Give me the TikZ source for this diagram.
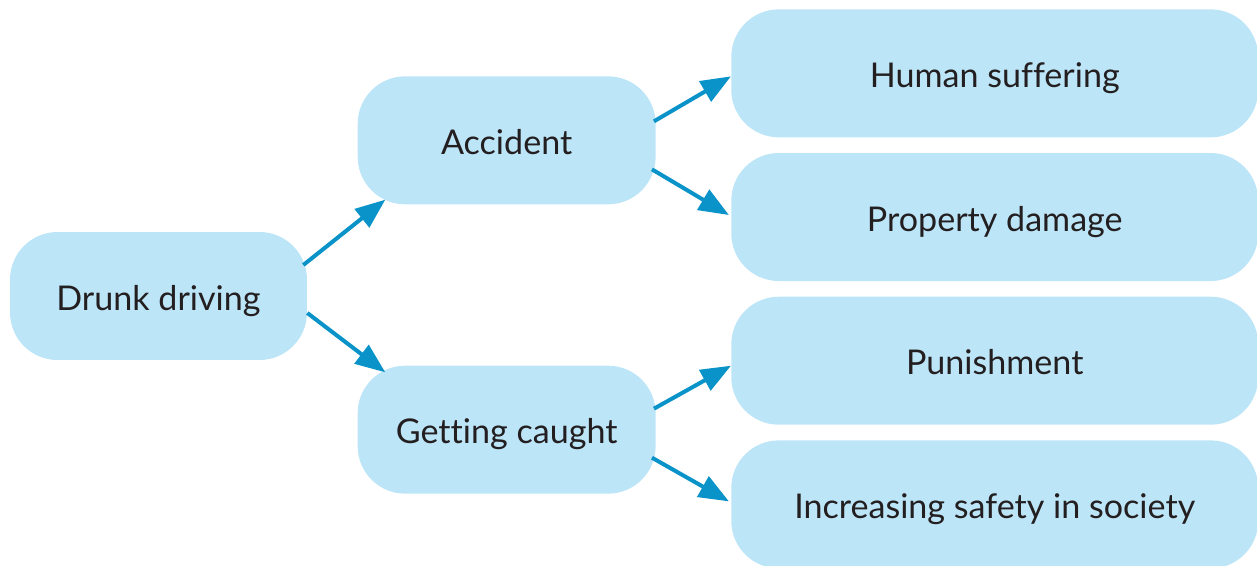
\documentclass[tikz,border=0pt]{standalone}
\usepackage{fontspec}
\setmainfont[Ligatures=NoCommon]{Lato}
\usetikzlibrary{positioning,arrows.meta}
\definecolor{boxfill}{HTML}{BDE5F8}
\definecolor{arrowblue}{HTML}{0A93C8}
\definecolor{textdark}{HTML}{231F20}
\tikzstyle{box} = [rectangle, rounded corners=0.95cm, fill=boxfill, text=textdark, text centered, minimum height=2.56cm, text height=16pt, text depth=0pt, font=\fontsize{19.4}{23}\selectfont]
\tikzstyle{smallbox} = [box, minimum width=5.96cm]
\tikzstyle{widebox} = [box, minimum width=10.54cm]
\tikzstyle{arrow} = [-{Triangle[length=0.6cm,width=0.46cm]}, draw=arrowblue, line width=0.08cm]

\begin{document}
\begin{tikzpicture}[x=0.02cm,y=-0.02cm]
		\useasboundingbox (0,0) rectangle (1257,565);
		\node (drunk-driving) [smallbox,minimum width=5.94cm] at (158.5,296) {Drunk driving};
		\node (accident) [smallbox,above right=0.54cm and 1cm of drunk-driving] {Accident};
		\node (getting-caught) [smallbox,below right=0.1cm and 1cm of drunk-driving] {Getting caught};
		\node (human-suffering) [widebox,right=1.5cm of accident,yshift=1.34cm] {Human suffering};
		\node (property-damage) [widebox,below=0.3cm of human-suffering] {Property damage};
		\node (punishment) [widebox,below=0.3cm of property-damage] {Punishment};
		\node (increasing-safety) [widebox,below=0.3cm of punishment] {Increasing safety in society};
		
		\draw [arrow] ([shift={(-4,-31)}]drunk-driving.east) -- ([shift={(28,-5)}]accident.south west);
		\draw [arrow] ([shift={(0,17)}]drunk-driving.east) -- ([shift={(28,7)}]getting-caught.north west);
		\draw [arrow] ([shift={(-2,-19)}]accident.east) -- ([shift={(0,3)}]human-suffering.west);
		\draw [arrow] ([shift={(-4,29)}]accident.east) -- ([shift={(-2,-2)}]property-damage.west);
		\draw [arrow] ([shift={(-2,-21)}]getting-caught.east) -- ([shift={(0,5)}]punishment.west);
		\draw [arrow] ([shift={(-4,28)}]getting-caught.east) -- ([shift={(-2,-3)}]increasing-safety.west);
	
	\end{tikzpicture}
\end{document}
